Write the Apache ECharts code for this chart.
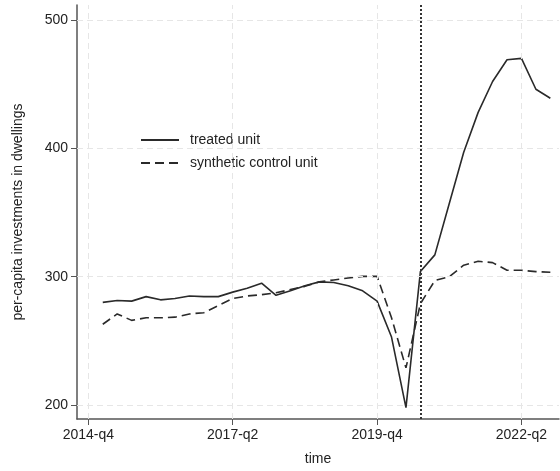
<!DOCTYPE html>
<html>
<head>
<meta charset="utf-8">
<script src="https://cdn.jsdelivr.net/npm/echarts@6/dist/echarts.min.js"></script>
<style>html,body{margin:0;padding:0;background:#fff}#chart{width:560px;height:471px}</style>
</head>
<body>
<div id="chart"></div>
<script>
const quarters = ['2015-q1','2015-q2','2015-q3','2015-q4','2016-q1','2016-q2','2016-q3','2016-q4',
  '2017-q1','2017-q2','2017-q3','2017-q4','2018-q1','2018-q2','2018-q3','2018-q4',
  '2019-q1','2019-q2','2019-q3','2019-q4','2020-q1','2020-q2','2020-q3','2020-q4',
  '2021-q1','2021-q2','2021-q3','2021-q4','2022-q1','2022-q2','2022-q3','2022-q4'];
const treated = [280,281.5,281,284.5,282,283,285,284.5,284.5,288,291,295,285.5,289,293,296,
  295.5,293,289,281,253,198,304,317,357,397,428,452,469,470,446,439];
const synthetic = [263,271,266,268,268,268.5,271,272,277.5,283,285,286,287.5,290,292.5,296,
  297.5,299,300.3,300.3,268,229,279,297,300,309,312,311,305,305,304,303.5];
const xTickLabels = ['2014-q4','2017-q2','2019-q4','2022-q2'];
const yTicks = [200,300,400,500];
const treatmentQuarter = '2020-q3';

function qIndex(label){ const p = label.split('-q'); return (+p[0]-2014)*4 + (+p[1]) - 4; }
const xTickVals = xTickLabels.map(qIndex);
const labelByVal = {}; xTickLabels.forEach(l => labelByVal[qIndex(l)] = l);

const font = 'Liberation Sans, Arial, Helvetica, sans-serif';
const gridStyle = {color:'#e6e6e6', type:[6,4], width:1};

const chart = echarts.init(document.getElementById('chart'));
chart.setOption({
  animation:false,
  textStyle:{fontFamily:font},
  grid:{left:77, top:5, right:1, bottom:49, containLabel:false},
  legend:{
    data:['treated unit','synthetic control unit'],
    orient:'vertical', left:135, top:128, itemWidth:38, itemHeight:14, itemGap:9,
    itemStyle:{opacity:0},
    textStyle:{fontSize:14, color:'#222', fontFamily:font, padding:[0,0,0,6]}
  },
  xAxis:{
    type:'value', min:-0.785, max:32.6,
    name:'time', nameLocation:'middle', nameGap:33,
    nameTextStyle:{fontSize:14, color:'#222', fontFamily:font},
    axisLine:{show:true, onZero:false, lineStyle:{color:'#555', width:1.5}},
    axisTick:{show:true, length:6, customValues:xTickVals, lineStyle:{color:'#555', width:1}},
    axisLabel:{customValues:xTickVals, margin:9, fontSize:14, color:'#222', fontFamily:font,
      formatter:v => labelByVal[v] || ''},
    splitLine:{show:false}
  },
  yAxis:{
    type:'value', min:189.2, max:511.6,
    name:'per-capita investments in dwellings', nameLocation:'middle', nameGap:52,
    nameTextStyle:{fontSize:14, color:'#222', fontFamily:font},
    axisLine:{show:true, onZero:false, lineStyle:{color:'#555', width:1.5}},
    axisTick:{show:true, length:6, customValues:yTicks, lineStyle:{color:'#555', width:1}},
    axisLabel:{customValues:yTicks, margin:9, fontSize:14, color:'#222', fontFamily:font},
    splitLine:{show:false}
  },
  series:[
    {
      name:'grid', type:'line', data:[], z:0, silent:true,
      markLine:{silent:true, symbol:['none','none'], label:{show:false}, lineStyle:gridStyle,
        animation:false,
        data: yTicks.map(v => ({yAxis:v})).concat(xTickVals.map(v => ({xAxis:v})))}
    },
    {
      name:'treated unit', type:'line', symbol:'none', z:3,
      lineStyle:{color:'#2a2a2a', width:1.6, type:'solid'},
      itemStyle:{color:'#2a2a2a'},
      data: quarters.map((q,i) => [qIndex(q), treated[i]]),
      markLine:{silent:true, symbol:['none','none'], label:{show:false}, animation:false,
        lineStyle:{color:'#333', width:2, type:[2,2]},
        data:[{xAxis:qIndex(treatmentQuarter)}]}
    },
    {
      name:'synthetic control unit', type:'line', symbol:'none', z:2,
      lineStyle:{color:'#2a2a2a', width:1.6, type:[9,5]},
      itemStyle:{color:'#2a2a2a'},
      data: quarters.map((q,i) => [qIndex(q), synthetic[i]])
    }
  ]
});
</script>
</body>
</html>
